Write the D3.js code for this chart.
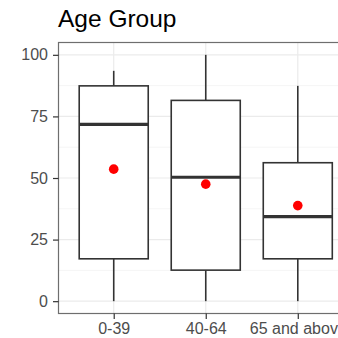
<!DOCTYPE html>
<html><head><meta charset="utf-8">
<script src="https://cdn.jsdelivr.net/npm/d3@7"></script>
<style>body{margin:0;background:#fff}svg{display:block}</style>
</head><body>
<script>
const categories = ["0-39", "40-64", "65 and above"];
const whiskerLow = [0, 0, 0];
const q1 = [17.2, 12.6, 17.2];
const medians = [71.8, 50.3, 34.3];
const q3 = [87.4, 81.5, 56.2];
const whiskerHigh = [93.5, 100, 87.4];
const means = [53.6, 47.5, 38.8];
const yTicks = [0, 25, 50, 75, 100];
const yMinor = [12.5, 37.5, 62.5, 87.5];
const title = "Age Group";

(function () {
const W = 338, H = 338;
const svg = d3.select("body").append("svg").attr("width", W).attr("height", H);
const pLeft = 58.5, pTop = 42.5, pBottom = 313.5, pRight = 353;
const font = "Liberation Sans, Arial, sans-serif";

const y = d3.scaleLinear().domain([-5, 105]).range([pBottom, pTop]);
const xPos = d3.scaleLinear().domain([0.4, 3.6]).range([pLeft, pRight]);
const x = (i) => xPos(i + 1);
const bw = xPos(1.75) - xPos(1);

const g = svg.append("g");
g.selectAll(".minor").data(yMinor).enter().append("line")
  .attr("x1", pLeft).attr("x2", W).attr("y1", d => y(d)).attr("y2", d => y(d))
  .attr("stroke", "#f2f2f2").attr("stroke-width", 0.8);
g.selectAll(".major").data(yTicks).enter().append("line")
  .attr("x1", pLeft).attr("x2", W).attr("y1", d => y(d)).attr("y2", d => y(d))
  .attr("stroke", "#ebebeb").attr("stroke-width", 1.2);
g.selectAll(".vmajor").data(categories).enter().append("line")
  .attr("x1", (d, i) => x(i)).attr("x2", (d, i) => x(i)).attr("y1", pTop).attr("y2", pBottom)
  .attr("stroke", "#ebebeb").attr("stroke-width", 1.2);

const boxes = g.selectAll(".box").data(categories).enter().append("g");
boxes.append("line").attr("x1", (d, i) => x(i)).attr("x2", (d, i) => x(i))
  .attr("y1", (d, i) => y(whiskerHigh[i])).attr("y2", (d, i) => y(q3[i]))
  .attr("stroke", "#333").attr("stroke-width", 1.6);
boxes.append("line").attr("x1", (d, i) => x(i)).attr("x2", (d, i) => x(i))
  .attr("y1", (d, i) => y(q1[i])).attr("y2", (d, i) => y(whiskerLow[i]))
  .attr("stroke", "#333").attr("stroke-width", 1.6);
boxes.append("rect").attr("x", (d, i) => x(i) - bw / 2).attr("width", bw)
  .attr("y", (d, i) => y(q3[i])).attr("height", (d, i) => y(q1[i]) - y(q3[i]))
  .attr("fill", "#fff").attr("stroke", "#333").attr("stroke-width", 1.6);
boxes.append("line").attr("x1", (d, i) => x(i) - bw / 2).attr("x2", (d, i) => x(i) + bw / 2)
  .attr("y1", (d, i) => y(medians[i])).attr("y2", (d, i) => y(medians[i]))
  .attr("stroke", "#333").attr("stroke-width", 3.2);
boxes.append("circle").attr("cx", (d, i) => x(i)).attr("cy", (d, i) => y(means[i]))
  .attr("r", 4.8).attr("fill", "red");

svg.append("rect").attr("x", pLeft).attr("y", pTop).attr("width", pRight - pLeft).attr("height", pBottom - pTop)
  .attr("fill", "none").attr("stroke", "#6e6e6e").attr("stroke-width", 1.2);

const yAxis = d3.axisLeft(y).tickValues(yTicks).tickSize(5.5).tickPadding(5);
const ya = svg.append("g").attr("transform", `translate(${pLeft},0)`).call(yAxis);
ya.select(".domain").remove();
ya.selectAll("line").attr("stroke", "#333").attr("stroke-width", 1.2);
ya.selectAll("text").attr("fill", "#4d4d4d").style("font-family", font).style("font-size", "16px");

const xAxis = d3.axisBottom(d3.scalePoint().domain(categories).range([x(0), x(2)])).tickSize(5.5).tickPadding(3.5);
const xa = svg.append("g").attr("transform", `translate(0,${pBottom})`).call(xAxis);
xa.select(".domain").remove();
xa.selectAll("line").attr("stroke", "#333").attr("stroke-width", 1.2);
xa.selectAll("text").attr("fill", "#4d4d4d").style("font-family", font).style("font-size", "16px");

svg.append("text").attr("x", pLeft - 0.5).attr("y", 27).text(title)
  .style("font-family", font).style("font-size", "24.5px").attr("fill", "#000");
})();
</script>
</body></html>
